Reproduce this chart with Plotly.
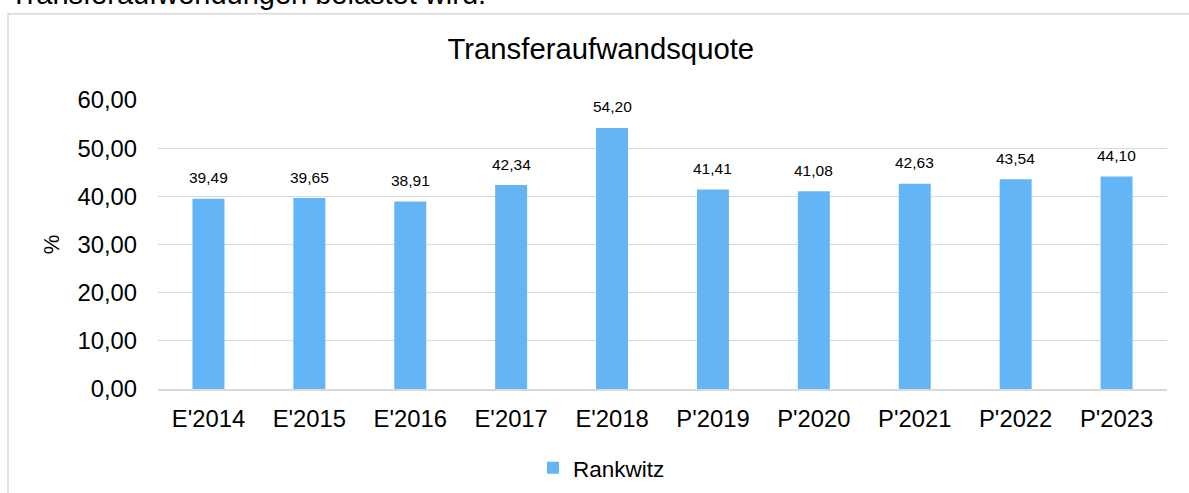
import plotly.graph_objects as go

categories = ["E'2014", "E'2015", "E'2016", "E'2017", "E'2018",
              "P'2019", "P'2020", "P'2021", "P'2022", "P'2023"]
values = [39.49, 39.65, 38.91, 42.34, 54.20, 41.41, 41.08, 42.63, 43.54, 44.10]
series_name = "Rankwitz"
chart_title = "Transferaufwandsquote"
y_title = "%"
y_ticks = [0, 10, 20, 30, 40, 50, 60]
header_text = "Transferaufwendungen belastet wird."

FONT = "Liberation Sans, Arial, Helvetica, sans-serif"
BAR_COLOR = "#64B5F6"
GRID = "#d9d9d9"

fig = go.Figure()
fig.add_trace(go.Bar(
    x=categories, y=values, name=series_name,
    marker=dict(color=BAR_COLOR, line=dict(width=0)),
    showlegend=True, hoverinfo="skip",
))

# data labels
for c, v in zip(categories, values):
    fig.add_annotation(
        x=c, y=v, xref="x", yref="y",
        text=f"{v:.2f}".replace(".", ","),
        showarrow=False, yanchor="middle", yshift=21,
        font=dict(family=FONT, size=15.5, color="#000000"),
    )

L, R, T, B = 158, 22, 99.5, 103.5
W, H = 1189, 493
pw = W - L - R
ph = H - T - B


def px_x(px):
    return (px - L) / pw


def px_y(py):
    return (H - B - py) / ph


# partially visible text above the chart
fig.add_annotation(
    x=px_x(8), y=px_y(11.5), xref="paper", yref="paper",
    xanchor="left", yanchor="bottom", showarrow=False,
    text=header_text, font=dict(family=FONT, size=29, color="#000000"),
)

# chart frame (only top and left edges visible in the crop)
fig.add_shape(
    type="line", xref="paper", yref="paper",
    x0=px_x(7.25), x1=px_x(W + 20), y0=px_y(13), y1=px_y(13),
    line=dict(color=GRID, width=1.5), layer="below",
)
fig.add_shape(
    type="line", xref="paper", yref="paper",
    x0=px_x(8), x1=px_x(8), y0=px_y(12.25), y1=px_y(H + 20),
    line=dict(color=GRID, width=1.5), layer="below",
)

fig.update_layout(
    width=W, height=H,
    margin=dict(l=L, r=R, t=T, b=B, autoexpand=False),
    paper_bgcolor="white", plot_bgcolor="white",
    separators=",.",
    font=dict(family=FONT, color="#000000"),
    title=dict(
        text=chart_title, x=600.8 / W, y=1 - 48.7 / H,
        xref="container", yref="container", xanchor="center", yanchor="middle",
        font=dict(family=FONT, size=29.3, color="#000000"),
    ),
    bargap=0.683,
    legend=dict(
        orientation="h", x=px_x(533), xanchor="left",
        y=px_y(469), yanchor="middle",
        font=dict(family=FONT, size=22.5, color="#000000"),
        bgcolor="rgba(0,0,0,0)", itemwidth=30,
    ),
    xaxis=dict(
        showgrid=False, showline=True, linecolor=GRID, linewidth=1.5,
        ticks="", tickfont=dict(family=FONT, size=23.8, color="#000000"),
        ticklabelstandoff=8, fixedrange=True,
    ),
    yaxis=dict(
        range=[0, 60], tickvals=y_ticks, tickformat=".2f",
        showgrid=True, gridcolor=GRID, gridwidth=1.3,
        zeroline=False, showline=False, ticks="",
        tickfont=dict(family=FONT, size=23.8, color="#000000"),
        ticklabelstandoff=20,
        title=dict(text=y_title, standoff=11,
                   font=dict(family=FONT, size=22, color="#000000")),
        automargin=False, fixedrange=True,
    ),
)

fig.write_html(
    "out.html",
    config={"displayModeBar": False},
    post_script=(
        "document.documentElement.style.margin='0';"
        "document.documentElement.style.padding='0';"
        "document.documentElement.style.overflow='hidden';"
        "document.body.style.margin='0';"
        "document.body.style.padding='0';"
        "document.body.style.overflow='hidden';"
    ),
)
